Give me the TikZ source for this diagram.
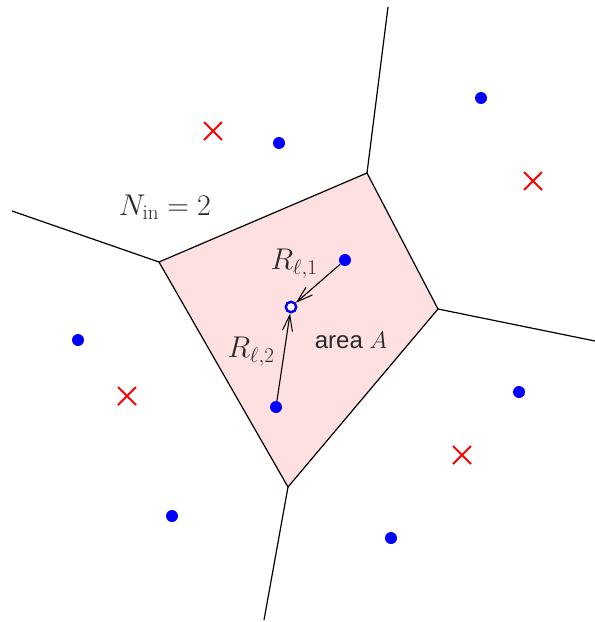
\RequirePackage{fix-cm}
\documentclass[tikz,border=0pt]{standalone}
\usepackage{fontspec}
\newfontfamily\sansf{Liberation Sans}
\usetikzlibrary{arrows.meta}
\definecolor{cellpink}{RGB}{255,224,225}
\definecolor{txt}{RGB}{40,40,40}
\tikzset{
  edge/.style={line width=1.2pt, black},
  site/.style={circle, fill=blue, inner sep=0pt, minimum size=12pt},
  cross/.style={red, line width=2pt},
  arr/.style={line width=1.1pt, -{Straight Barb[length=16pt,width=10pt,line width=1pt]}},
  lbl/.style={text=txt, inner sep=0pt, font=\fontsize{30}{34}\selectfont},
}
\begin{document}
\begin{tikzpicture}[x=1pt,y=-1pt]
\useasboundingbox (0,0) rectangle (595,622);
% cell vertices
\coordinate (v1) at (159,262);
\coordinate (v2) at (367,173);
\coordinate (v3) at (438,309);
\coordinate (v4) at (288,487);
\coordinate (e1) at (12,211);
\coordinate (e2) at (388,7);
\coordinate (e3) at (595,341);
\coordinate (e4) at (264,620);
\fill[cellpink] (v1) -- (v2) -- (v3) -- (v4) -- cycle;
\draw[edge] (v1) -- (v2) -- (v3) -- (v4) -- cycle;
\draw[edge] (v1) -- (e1);
\draw[edge] (v2) -- (e2);
\draw[edge] (v3) -- (e3);
\draw[edge] (v4) -- (e4);
% sites
\node[site] (s1) at (481,98) {};
\node[site] (s2) at (279,143) {};
\node[site] (s3) at (345,260) {};
\node[site] (s4) at (78,340) {};
\node[site] (s5) at (276,407) {};
\node[site] (s6) at (519,392) {};
\node[site] (s7) at (172,516) {};
\node[site] (s8) at (391,538) {};
% crosses
\foreach \x/\y in {213/131, 533/181, 127/396, 462/455}{
  \draw[cross] (\x-9,\y-9) -- (\x+9,\y+9) (\x-9,\y+9) -- (\x+9,\y-9);
}
% centre
\node[circle, draw=blue, fill=white, line width=2.4pt, inner sep=0pt, minimum size=10.5pt] (c) at (291,307) {};
\draw[arr] (s3) -- (c);
\draw[arr] (s5) -- (c);
% labels
\node[lbl] (l1) at (294,264) {$R_{\ell,1}$};
\node[lbl] (l2) at (251,352) {$R_{\ell,2}$};
\node[lbl] (ln) at (165,207) {$N_{\mathrm{in}}=2$};
\node[lbl, font=\fontsize{24}{28}\selectfont] (la) at (351,340) {\sansf area $A$};
\end{tikzpicture}
\end{document}
